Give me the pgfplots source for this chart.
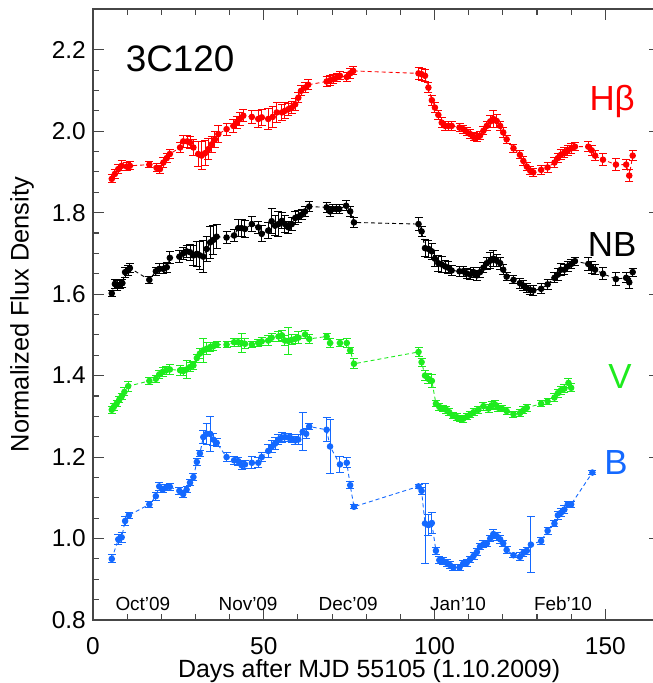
\documentclass[border=0pt]{standalone}
\usepackage{fontspec}
\setmainfont{Liberation Sans}
\usepackage{pgfplots}
\usepackage{pgfplotstable}
\pgfplotsset{compat=1.18}
\definecolor{hbred}{RGB}{255,0,0}
\definecolor{vgreen}{RGB}{30,235,30}
\definecolor{bblue}{RGB}{20,105,255}
\definecolor{axgray}{RGB}{70,70,70}

\pgfplotstableread{
x y e
5.5 1.883 .010
6.4 1.895 .010
7.4 1.907 .012
8.4 1.915 .012
9.9 1.913 .010
10.8 1.915 .010
16.5 1.918 .008
18.6 1.910 .010
19.6 1.907 .010
20.6 1.923 .012
21.6 1.934 .012
22.5 1.944 .012
25.5 1.960 .012
26.4 1.975 .015
27.6 1.975 .015
28.4 1.972 .015
29.4 1.960 .020
30.8 1.944 .030
31.8 1.940 .035
32.8 1.946 .030
33.8 1.956 .025
34.8 1.968 .020
35.7 1.980 .020
36.7 1.993 .020
39.1 2.005 .015
41.1 2.013 .015
42.1 2.021 .015
43.0 2.030 .015
44.0 2.038 .015
46.5 2.035 .015
48.4 2.030 .020
49.4 2.034 .020
51.3 2.030 .025
52.6 2.035 .025
53.8 2.046 .025
55.3 2.046 .020
56.2 2.050 .020
57.2 2.054 .015
58.2 2.058 .015
59.2 2.066 .015
60.1 2.082 .012
60.9 2.099 .012
62.1 2.107 .012
63.0 2.114 .012
68.4 2.122 .012
69.4 2.125 .012
70.4 2.128 .010
71.4 2.132 .010
72.3 2.136 .010
74.3 2.133 .012
75.3 2.142 .012
76.2 2.148 .010
95.3 2.142 .015
96.2 2.140 .015
97.2 2.136 .015
98.2 2.107 .012
99.2 2.076 .012
100.1 2.058 .012
101.1 2.040 .012
102.1 2.021 .012
103.1 2.013 .012
104.0 2.013 .012
105.0 2.013 .012
107.3 2.009 .010
108.4 2.005 .010
109.4 1.999 .010
110.4 1.993 .010
111.4 1.986 .010
112.4 1.985 .010
113.3 1.989 .010
114.3 2.001 .010
115.3 2.013 .012
116.3 2.024 .015
117.2 2.030 .020
118.2 2.025 .015
119.2 2.013 .012
120.1 1.997 .012
121.1 1.980 .010
123.1 1.958 .010
125.0 1.942 .010
126.0 1.927 .010
127.0 1.913 .010
128.0 1.903 .010
128.9 1.899 .010
131.2 1.905 .012
133.1 1.911 .012
135.1 1.923 .012
136.1 1.934 .012
137.0 1.942 .012
138.0 1.948 .012
139.0 1.953 .012
140.0 1.958 .012
141.1 1.962 .010
145.0 1.962 .012
146.0 1.953 .012
147.0 1.940 .012
149.3 1.930 .015
153.1 1.918 .015
156.1 1.918 .012
157.0 1.891 .015
158.0 1.940 .012
}\hb

\pgfplotstableread{
x y e
5.5 1.602 .008
6.4 1.625 .012
7.1 1.621 .012
7.9 1.623 .010
8.6 1.627 .010
9.4 1.654 .012
10.3 1.658 .012
10.8 1.664 .010
16.5 1.635 .008
18.4 1.656 .010
19.4 1.662 .012
20.6 1.662 .012
21.6 1.666 .012
22.5 1.689 .015
25.3 1.692 .015
26.4 1.700 .015
27.4 1.705 .015
28.4 1.703 .020
29.4 1.695 .025
30.4 1.699 .030
31.3 1.695 .035
32.3 1.692 .040
33.3 1.711 .030
34.3 1.727 .040
35.2 1.733 .035
36.2 1.741 .030
39.1 1.739 .015
41.3 1.744 .015
42.5 1.762 .020
43.5 1.762 .020
44.5 1.760 .020
46.5 1.772 .018
48.4 1.764 .015
49.4 1.748 .020
51.3 1.756 .020
52.3 1.779 .030
53.3 1.768 .025
54.3 1.772 .030
55.3 1.780 .020
56.2 1.772 .020
57.2 1.764 .015
58.2 1.772 .015
59.2 1.787 .015
60.1 1.790 .015
61.1 1.795 .012
62.1 1.803 .012
63.3 1.815 .012
68.4 1.813 .012
69.4 1.803 .012
70.2 1.809 .010
71.2 1.809 .010
72.1 1.809 .010
74.1 1.817 .012
75.3 1.803 .012
76.4 1.776 .012
95.3 1.772 .015
96.2 1.754 .012
97.2 1.713 .020
98.2 1.711 .020
99.2 1.705 .020
100.1 1.687 .020
101.1 1.676 .020
102.1 1.673 .020
103.1 1.668 .015
104.0 1.665 .015
105.0 1.658 .012
107.3 1.656 .012
108.4 1.656 .012
109.4 1.651 .012
110.4 1.648 .012
111.4 1.654 .012
112.4 1.646 .012
113.3 1.654 .012
114.3 1.665 .012
115.3 1.676 .015
116.3 1.682 .020
117.2 1.687 .020
118.2 1.682 .015
119.2 1.676 .015
120.1 1.660 .012
121.1 1.643 .010
123.1 1.635 .010
125.0 1.627 .012
126.0 1.621 .012
127.0 1.615 .012
128.0 1.610 .012
128.9 1.609 .012
131.2 1.613 .012
133.1 1.624 .012
135.1 1.640 .012
136.1 1.648 .015
137.0 1.660 .015
138.0 1.660 .012
139.0 1.668 .012
140.0 1.674 .012
141.1 1.681 .010
145.0 1.674 .015
146.0 1.665 .015
147.0 1.660 .012
149.3 1.650 .015
153.1 1.637 .015
156.1 1.640 .012
157.0 1.629 .015
158.0 1.654 .010
}\nb

\pgfplotstableread{
x y e
5.5 1.316 .008
6.1 1.323 .008
6.9 1.331 .008
7.7 1.341 .008
8.4 1.349 .008
9.2 1.360 .010
10.3 1.374 .012
16.5 1.387 .008
18.4 1.392 .008
19.4 1.403 .010
20.4 1.409 .010
21.4 1.413 .010
22.5 1.415 .012
25.5 1.413 .012
26.4 1.411 .010
27.4 1.415 .022
28.4 1.421 .010
29.4 1.425 .010
30.4 1.443 .010
31.3 1.454 .012
32.3 1.462 .030
33.3 1.466 .015
34.3 1.470 .012
35.2 1.472 .010
36.2 1.476 .008
39.1 1.476 .008
41.3 1.482 .010
42.5 1.482 .010
43.5 1.480 .023
44.5 1.478 .012
46.5 1.476 .008
48.4 1.480 .008
49.4 1.484 .010
51.3 1.486 .012
52.3 1.493 .010
54.3 1.496 .012
55.3 1.499 .012
56.2 1.486 .012
57.2 1.485 .034
58.2 1.488 .012
59.2 1.490 .012
60.1 1.493 .015
62.1 1.501 .010
63.3 1.490 .010
68.4 1.496 .008
69.4 1.480 .010
72.3 1.480 .008
74.3 1.480 .012
75.3 1.462 .008
76.4 1.429 .012
95.3 1.458 .012
96.2 1.433 .010
97.2 1.400 .012
98.2 1.392 .012
99.2 1.387 .015
100.4 1.331 .008
101.4 1.323 .008
102.4 1.319 .008
103.4 1.316 .008
104.3 1.310 .008
105.3 1.302 .008
106.5 1.298 .008
107.5 1.295 .008
108.4 1.294 .008
109.6 1.300 .008
110.5 1.305 .008
111.4 1.310 .008
112.8 1.316 .008
114.3 1.325 .010
115.8 1.319 .010
116.7 1.327 .010
117.7 1.329 .010
118.7 1.321 .010
119.7 1.319 .008
121.1 1.313 .008
123.1 1.305 .008
125.0 1.308 .008
126.0 1.315 .008
127.0 1.321 .008
131.2 1.331 .008
133.1 1.337 .008
135.1 1.346 .010
136.1 1.357 .010
137.0 1.364 .010
138.0 1.368 .010
139.2 1.382 .012
140.0 1.370 .010
}\vb

\pgfplotstableread{
x y e
5.5 0.950 .010
7.4 0.998 .012
8.4 1.003 .012
9.4 1.043 .010
10.5 1.057 .008
16.5 1.084 .008
18.4 1.104 .010
19.4 1.128 .010
20.4 1.120 .008
21.4 1.125 .008
22.5 1.127 .008
25.3 1.117 .008
26.4 1.109 .008
27.4 1.120 .008
28.4 1.137 .008
29.4 1.151 .008
30.4 1.188 .008
31.3 1.209 .008
32.3 1.249 .015
33.3 1.257 .025
34.3 1.257 .043
35.2 1.243 .015
36.2 1.235 .010
39.1 1.200 .010
41.3 1.192 .010
42.5 1.190 .010
43.5 1.180 .010
44.5 1.182 .010
46.5 1.186 .015
48.4 1.186 .012
49.4 1.200 .010
51.3 1.215 .015
52.3 1.225 .015
53.3 1.233 .015
54.3 1.243 .012
55.3 1.248 .012
56.2 1.249 .010
57.2 1.248 .010
58.2 1.245 .010
59.2 1.241 .010
60.1 1.243 .012
61.4 1.262 .047
62.4 1.257 .012
63.3 1.275 .008
68.4 1.267 .030
69.4 1.226 .067
72.3 1.182 .020
74.3 1.186 .012
75.3 1.131 .008
76.4 1.078 .005
95.3 1.128 .005
96.2 1.117 .008
97.2 1.037 .098
98.2 1.033 .025
99.2 1.038 .025
100.4 0.970 .008
101.4 0.947 .008
102.4 0.945 .008
103.6 0.940 .008
104.5 0.935 .008
105.5 0.929 .008
107.3 0.929 .008
108.4 0.939 .008
109.4 0.940 .008
110.4 0.949 .008
111.4 0.957 .008
112.4 0.967 .008
113.3 0.980 .008
114.3 0.986 .008
115.3 0.988 .008
116.3 1.000 .008
117.2 1.011 .010
118.2 1.006 .010
119.2 0.998 .010
120.1 0.988 .008
121.1 0.972 .008
123.1 0.959 .005
125.0 0.955 .010
126.0 0.965 .008
127.0 0.970 .008
128.2 0.985 .068
131.2 0.994 .008
133.1 1.019 .008
135.1 1.037 .008
136.1 1.057 .010
137.0 1.063 .010
138.0 1.071 .010
139.0 1.084 .008
140.0 1.084 .008
146.2 1.162 .004
}\bb

\pgfplotsset{
  series/.style={#1, dashed, line width=0.9bp, dash pattern=on 4bp off 3bp,
    mark=*, mark size=2.8bp, mark options={solid, fill=#1, draw=#1},
    error bars/.cd, y dir=both, y explicit,
    error bar style={solid, line width=1bp, #1},
    error mark options={solid, rotate=90, mark size=4bp, line width=1bp, #1}},
}

\begin{document}
\begin{tikzpicture}
\begin{axis}[
  at={(0,0)}, anchor=south west,
  scale only axis, width=567bp, height=611bp,
  xmin=0, xmax=166, ymin=0.8, ymax=2.3,
  axis line style={axgray, line width=1.3bp},
  every tick/.style={axgray, line width=1.1bp},
  tick align=inside,
  major tick length=11bp, minor tick length=6bp,
  xtick={0,50,100,150}, minor x tick num=4,
  ytick={0.8,1.0,1.2,1.4,1.6,1.8,2.0,2.2}, minor y tick num=3,
  /pgf/number format/assume math mode=true,
  y tick label style={/pgf/number format/fixed, /pgf/number format/fixed zerofill, /pgf/number format/precision=1},
  tick label style={font=\fontsize{24.5}{24.5}\selectfont, inner sep=0pt},
  y tick label style={xshift=-7bp},
  x tick label style={yshift=-17bp},
  xlabel={Days after MJD 55105 (1.10.2009)},
  ylabel={Normalized Flux Density},
  every axis x label/.style={at={(axis description cs:0.487,-0.0835)}, anchor=center, font=\fontsize{25}{25}\selectfont},
  every axis y label/.style={at={(axis description cs:-0.1252,0.5)}, anchor=center, rotate=90, font=\fontsize{25.5}{25.5}\selectfont},
  clip=false,
]
\addplot[series=hbred] table[x=x,y=y,y error=e] {\hb};
\addplot[series=black] table[x=x,y=y,y error=e] {\nb};
\addplot[series=vgreen] table[x=x,y=y,y error=e] {\vb};
\addplot[series=bblue] table[x=x,y=y,y error=e] {\bb};

\node[font=\fontsize{37}{37}\selectfont] at (axis cs:25.5,2.177) {3C120};
\node[font=\fontsize{35}{35}\selectfont, text=hbred] at (axis cs:152,2.074) {Hβ};
\node[font=\fontsize{35}{35}\selectfont] at (axis cs:152,1.722) {NB};
\node[font=\fontsize{35}{35}\selectfont, text=vgreen] at (axis cs:154.3,1.398) {V};
\node[font=\fontsize{35}{35}\selectfont, text=bblue] at (axis cs:153.1,1.187) {B};

\node[font=\fontsize{19}{19}\selectfont] at (axis cs:14.6,0.839) {Oct'09};
\node[font=\fontsize{19}{19}\selectfont] at (axis cs:45.4,0.839) {Nov'09};
\node[font=\fontsize{19}{19}\selectfont] at (axis cs:74.7,0.839) {Dec'09};
\node[font=\fontsize{19}{19}\selectfont] at (axis cs:106.9,0.839) {Jan'10};
\node[font=\fontsize{19}{19}\selectfont] at (axis cs:137.6,0.839) {Feb'10};
\end{axis}
\pgfresetboundingbox
\useasboundingbox (-93bp,-63bp) rectangle (560bp,620bp);
\end{tikzpicture}
\end{document}
